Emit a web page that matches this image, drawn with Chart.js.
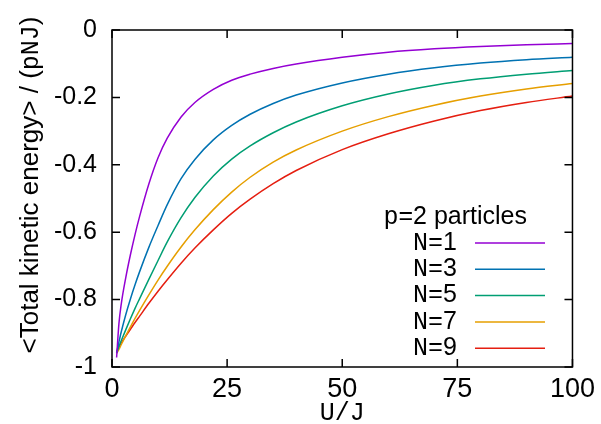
<!DOCTYPE html>
<html>
<head>
<meta charset="utf-8">
<script src="https://cdn.jsdelivr.net/npm/chart.js@4/dist/chart.umd.min.js"></script>
<style>
  html, body { margin: 0; padding: 0; background: #fff; }
  #wrap { width: 601px; height: 424px; }
</style>
</head>
<body>
<div id="wrap"><canvas id="kinChart" width="601" height="424"></canvas></div>
<script>
var uValues = [1, 1.5, 2, 3, 4, 5, 6, 8, 10, 12, 15, 18, 22, 26, 30, 35, 40, 50, 60, 70, 80, 90, 100];

// <Total kinetic energy> / (pNJ), one array per N
var eN1 = [-0.972, -0.872, -0.814, -0.734, -0.667, -0.607, -0.553, -0.457, -0.379, -0.321, -0.258, -0.215, -0.176, -0.149, -0.131, -0.114, -0.101, -0.081, -0.066, -0.056, -0.049, -0.044, -0.040];
var eN3 = [-0.958, -0.926, -0.896, -0.844, -0.798, -0.756, -0.717, -0.645, -0.580, -0.518, -0.441, -0.384, -0.326, -0.283, -0.250, -0.218, -0.193, -0.157, -0.131, -0.112, -0.098, -0.088, -0.081];
var eN5 = [-0.958, -0.939, -0.922, -0.889, -0.857, -0.826, -0.797, -0.740, -0.684, -0.629, -0.557, -0.497, -0.433, -0.383, -0.344, -0.305, -0.273, -0.225, -0.190, -0.164, -0.145, -0.131, -0.120];
var eN7 = [-0.960, -0.948, -0.934, -0.907, -0.881, -0.856, -0.832, -0.786, -0.742, -0.701, -0.644, -0.593, -0.533, -0.481, -0.437, -0.392, -0.356, -0.300, -0.257, -0.223, -0.196, -0.175, -0.159];
var eN9 = [-0.955, -0.941, -0.929, -0.908, -0.888, -0.868, -0.849, -0.811, -0.775, -0.741, -0.692, -0.647, -0.593, -0.544, -0.502, -0.456, -0.417, -0.355, -0.308, -0.270, -0.239, -0.215, -0.196];

var seriesNames  = ["1", "3", "5", "7", "9"];
var seriesValues = [eN1, eN3, eN5, eN7, eN9];
var seriesColors = ["#9400d3", "#0072b2", "#009e73", "#e69f00", "#e51e10"];

var xTicks = [0, 25, 50, 75, 100];
var yTicks = [0, -0.2, -0.4, -0.6, -0.8, -1];
var yTickText = ["0", "-0.2", "-0.4", "-0.6", "-0.8", "-1"];

var sansFont = "'Liberation Sans', Arial, sans-serif";
var monoFont = "'Liberation Mono', 'Courier New', monospace";

function toPoints(ys){
  return ys.map(function(y,i){ return {x: uValues[i], y: y}; });
}

var datasets = [];
seriesValues.forEach(function(vals,i){
  datasets.push({
    label: "N=" + seriesNames[i],
    data: toPoints(vals),
    borderColor: seriesColors[i],
    backgroundColor: seriesColors[i],
    borderWidth: 1.5,
    pointRadius: 0,
    cubicInterpolationMode: 'monotone',
    fill: false
  });
});

// gnuplot style frame: box, inward ticks, mixed-font titles and key
var gnuFrame = {
  id: 'gnuFrame',
  afterDraw: function(chart){
    var ctx = chart.ctx;
    var a = chart.chartArea;
    var xs = chart.scales.x, ys = chart.scales.y;
    ctx.save();
    ctx.strokeStyle = '#000';
    ctx.lineWidth = 1.5;
    ctx.strokeRect(a.left, a.top, a.right - a.left, a.bottom - a.top);

    ctx.beginPath();
    xTicks.forEach(function(v){
      var px = xs.getPixelForValue(v);
      ctx.moveTo(px, a.bottom); ctx.lineTo(px, a.bottom - 8);
      ctx.moveTo(px, a.top);    ctx.lineTo(px, a.top + 8);
    });
    yTicks.forEach(function(v){
      var py = ys.getPixelForValue(v);
      ctx.moveTo(a.left, py);  ctx.lineTo(a.left + 8, py);
      ctx.moveTo(a.right, py); ctx.lineTo(a.right - 8, py);
    });
    ctx.stroke();

    ctx.fillStyle = '#000';
    ctx.textBaseline = 'middle';

    // x axis title
    ctx.font = '25px ' + monoFont;
    ctx.textAlign = 'center';
    ctx.fillText('U/J', (a.left + a.right) / 2, 413);

    // y axis title, rotated
    var parts = [
      ['<Total kinetic energy> / (', '26px ' + sansFont],
      ['pNJ', '25px ' + monoFont],
      [')', '26px ' + sansFont]
    ];
    var total = 0;
    parts.forEach(function(p){ ctx.font = p[1]; total += ctx.measureText(p[0]).width; });
    ctx.save();
    ctx.translate(31, 185);
    ctx.rotate(-Math.PI / 2);
    ctx.textAlign = 'left';
    var cx = -total / 2;
    parts.forEach(function(p){
      ctx.font = p[1];
      ctx.fillText(p[0], cx, 0);
      cx += ctx.measureText(p[0]).width;
    });
    ctx.restore();

    // key
    ctx.textAlign = 'right';
    var keyRight = 527;
    ctx.font = '25px ' + sansFont;
    var rest = '=2 particles';
    ctx.fillText(rest, keyRight, 217);
    var wRest = ctx.measureText(rest).width;
    ctx.font = '25px ' + monoFont;
    ctx.fillText('p', keyRight - wRest, 217);

    chart.data.datasets.forEach(function(ds,i){
      var yy = 243 + i * 26.3;
      ctx.font = '25px ' + sansFont;
      ctx.fillText(seriesNames[i], 457, yy);
      var wd = ctx.measureText(seriesNames[i]).width;
      ctx.font = '25px ' + monoFont;
      ctx.fillText('N=', 457 - wd, yy);
      ctx.beginPath();
      ctx.strokeStyle = ds.borderColor;
      ctx.lineWidth = 1.5;
      ctx.moveTo(475, yy);
      ctx.lineTo(545, yy);
      ctx.stroke();
    });
    ctx.restore();
  }
};

var kinChart = new Chart(document.getElementById('kinChart'), {
  type: 'line',
  data: { datasets: datasets },
  plugins: [gnuFrame],
  options: {
    responsive: false,
    animation: false,
    layout: { padding: { left: 0, top: 24, right: 24, bottom: 0 } },
    plugins: {
      legend: { display: false },
      tooltip: { enabled: false },
      title: { display: false }
    },
    scales: {
      x: {
        type: 'linear',
        min: 0, max: 100,
        grid: { display: false, drawTicks: false },
        border: { display: false },
        afterFit: function(s){ s.height = 57; },
        afterBuildTicks: function(s){ s.ticks = xTicks.map(function(v){ return {value: v}; }); },
        ticks: { color: '#000', padding: 6, font: { family: sansFont, size: 27 }, maxRotation: 0 }
      },
      y: {
        type: 'linear',
        min: -1, max: 0,
        grid: { display: false, drawTicks: false },
        border: { display: false },
        afterFit: function(s){ s.width = 112; },
        afterBuildTicks: function(s){ s.ticks = yTicks.map(function(v){ return {value: v}; }); },
        ticks: {
          color: '#000', padding: 15, font: { family: sansFont, size: 25 },
          callback: function(v, i){ return yTickText[i]; }
        }
      }
    }
  }
});
</script>
</body>
</html>
